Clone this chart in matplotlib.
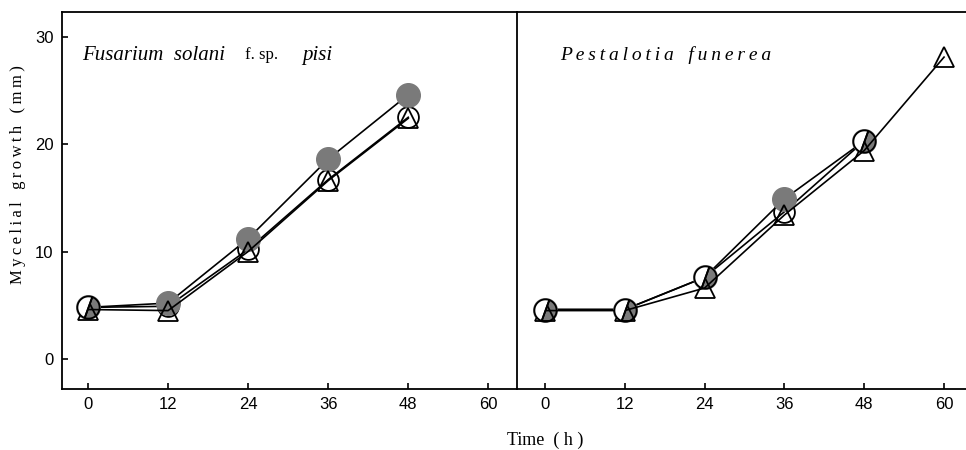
import numpy as np
import matplotlib.pyplot as plt
from matplotlib.markers import MarkerStyle
from matplotlib.transforms import Affine2D

xticks = [0, 12, 24, 36, 48, 60]
yticks = [0, 10, 20, 30]

# Fusarium solani f. sp. pisi
fus_hours = [0, 12, 24, 36, 48]
fus_filled = [4.8, 5.2, 11.2, 18.6, 24.6]
fus_open = [4.8, 4.9, 10.2, 16.7, 22.5]
fus_tri = [4.6, 4.5, 10.0, 16.6, 22.4]

# Pestalotia funerea
pes_hours_c = [0, 12, 24, 36, 48]
pes_filled = [4.6, 4.6, 7.6, 14.9, 20.3]
pes_open = [4.6, 4.6, 7.6, 13.7, 20.3]
pes_hours_t = [0, 12, 24, 36, 48, 60]
pes_tri = [4.5, 4.5, 6.6, 13.4, 19.4, 28.1]

plt.rcParams['font.family'] = ['Liberation Serif', 'DejaVu Serif']


def spaced(s, gap='\u2009'):
    # wide letter spacing like the printed figure
    return gap.join(s)


fig = plt.figure(figsize=(9.66, 4.5), dpi=100)
ax1 = fig.add_axes([62/966, 1-389/450, (517-62)/966, (389-12)/450])
ax2 = fig.add_axes([517/966, 1-389/450, (966-517)/966, (389-12)/450])

gray = '#7a7a7a'
half = MarkerStyle('o', fillstyle='left', transform=Affine2D().rotate_deg(-20))


def draw(ax, xc, filled, opn, xt, tri):
    ax.plot(xc, opn, '-', color='black', lw=1.2, marker='o', ms=15,
            mfc='none', mec='black', mew=1.3, zorder=3)
    ax.plot(xc, filled, '-', color='black', lw=1.2, zorder=3)
    ax.plot(xc, filled, 'o', ms=17, mfc=gray, mec=gray, zorder=4)
    ax.plot(xt, tri, '-', color='black', lw=1.2, marker='^', ms=15,
            mfc='none', mec='black', mew=1.3, zorder=5)
    # points where open and filled circles coincide: half white, half gray
    same = np.isclose(filled, opn)
    xs = np.array(xc)[same]
    ys = np.array(opn)[same]
    ax.plot(xs, ys, linestyle='none', marker=half, ms=16, mfc='white',
            mec='black', mew=1.3, zorder=6)


draw(ax1, fus_hours, fus_filled, fus_open, fus_hours, fus_tri)
draw(ax2, pes_hours_c, pes_filled, pes_open, pes_hours_t, pes_tri)

ax1.set_xlim(-3.9, 64.3)
ax2.set_xlim(-4.2, 63.3)
num_font = ['Liberation Sans', 'DejaVu Sans']
for ax in (ax1, ax2):
    ax.set_ylim(-2.8, 32.3)
    ax.set_xticks(xticks)
    ax.set_xticklabels([str(t) for t in xticks], family=num_font, fontsize=12)
    ax.tick_params(direction='in', length=4, width=1.2, pad=6)
    for s in ax.spines.values():
        s.set_linewidth(1.3)

ax1.set_yticks(yticks)
ax1.set_yticklabels([str(t) for t in yticks], family=num_font, fontsize=12)
ax1.spines['right'].set_visible(False)
ax2.set_yticks([])
ax2.spines['right'].set_visible(False)

ax1.text((82-62)/455, 0.885, 'Fusarium  solani', transform=ax1.transAxes,
         fontsize=15, style='italic', va='center')
ax1.text((245-62)/455, 0.885, 'f. sp.', transform=ax1.transAxes,
         fontsize=12, va='center')
ax1.text((302-62)/455, 0.885, 'pisi', transform=ax1.transAxes,
         fontsize=15, style='italic', va='center')
ax2.text((560-517)/449, 0.885,
         spaced('Pestalotia') + '   ' + spaced('funerea'),
         transform=ax2.transAxes, fontsize=14, style='italic', va='center')

fig.text(18/966, 1-175/450,
         spaced('Mycelial') + '   ' + spaced('growth') + '   ' + spaced('(mm)'),
         rotation=90, ha='center', va='center', fontsize=12)
fig.text(545/966, 1-440/450, 'Time  ( h )', ha='center', va='center',
         fontsize=13)

fig.savefig('out.png', dpi=100)
